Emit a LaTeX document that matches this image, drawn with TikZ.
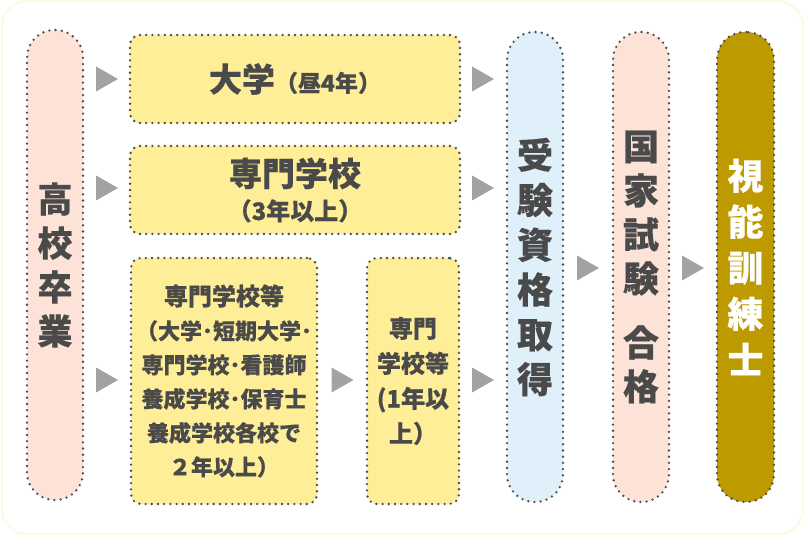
\documentclass[tikz,border=0pt]{standalone}
\usepackage{fontspec}
\setmainfont{Noto Sans CJK JP}[BoldFeatures={FakeBold=0.4}]
\definecolor{txt}{HTML}{4A4A4A}
\definecolor{dotc}{HTML}{4D4D4D}
\definecolor{pinkf}{HTML}{FDE3D7}
\definecolor{bluef}{HTML}{DFF0FA}
\definecolor{yelf}{HTML}{FEEE97}
\definecolor{goldf}{HTML}{BD9A00}
\definecolor{arrg}{HTML}{A2A2A2}
\definecolor{outer}{HTML}{FFF8E2}
\tikzset{
  dotbox/.style={draw=dotc, line width=2.6pt, dash pattern=on 0pt off 6.2pt, line cap=round, inner sep=0pt, align=center, text=txt, font=\bfseries},
  tallbox/.style={dotbox, minimum width=56pt, minimum height=470pt, rounded corners=27.5pt},
  ybox/.style={dotbox, fill=yelf, rounded corners=10pt},
}
\newcommand{\tri}[2]{\fill[arrg] (#1-11,#2-12.5) -- (#1+11,#2) -- (#1-11,#2+12.5) -- cycle;}
\begin{document}
\begin{tikzpicture}[x=1pt,y=-1pt]
\useasboundingbox (0,0) rectangle (806,537);
\fill[white] (0,0) rectangle (806,537);
\draw[outer, line width=2pt, rounded corners=25pt] (2,1) rectangle (803,534);

% tall boxes
\node[tallbox, fill=pinkf, font=\bfseries\fontsize{35}{44}\selectfont] (hs) at (55,265) {高\\校\\卒\\業};
\node[tallbox, fill=bluef, font=\bfseries\fontsize{36}{44.8}\selectfont] (juken) at (535,267) {受\\験\\資\\格\\取\\得};
\node[tallbox, fill=pinkf, font=\bfseries\fontsize{36}{44}\selectfont] (kokka) at (641,267) {国\\家\\試\\験\\[20pt]合\\格};
\node[tallbox, minimum width=57pt, fill=goldf, text=white, font=\bfseries\fontsize{36}{46}\selectfont] (shino) at (745.5,267) {視\\能\\訓\\練\\士};

% yellow boxes
\node[ybox, minimum width=330pt, minimum height=88pt] (univ) at (295,79)
  {\fontsize{33}{33}\selectfont 大学{\fontsize{23}{23}\selectfont（昼4年）}};
\node[ybox, minimum width=330pt, minimum height=88pt] (senmon) at (295,190)
  {\fontsize{33}{34}\selectfont 専門学校\\[9pt]{\fontsize{24}{24}\selectfont（3年以上）}};
\node[ybox, minimum width=186pt, minimum height=246pt, font=\bfseries\fontsize{22}{34}\selectfont] (big) at (224,381)
  {{\fontsize{24}{34}\selectfont 専門学校等}\\（大学･短期大学･\\専門学校･看護師\\養成学校･保育士\\養成学校各校で\\２年以上）};
\node[ybox, minimum width=92pt, minimum height=246pt, font=\bfseries\fontsize{24}{35}\selectfont] (small) at (413,381)
  {専門\\学校等\\(1年以\\上）};

% arrows
\tri{107}{79}
\tri{107}{188}
\tri{107}{380}
\tri{342.5}{380}
\tri{483}{79}
\tri{483}{188}
\tri{483}{380}
\tri{588}{268}
\tri{693}{268}
\end{tikzpicture}
\end{document}
